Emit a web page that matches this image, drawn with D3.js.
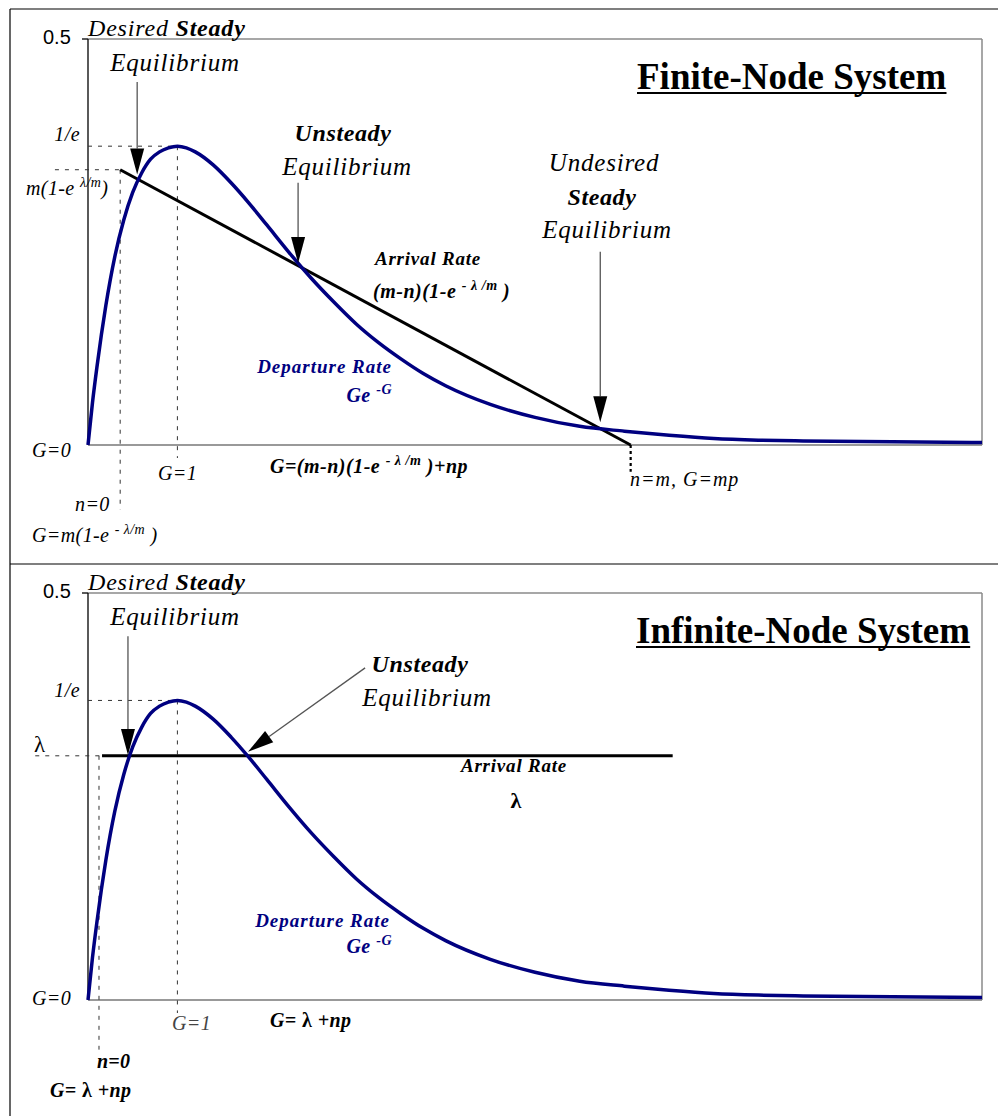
<!DOCTYPE html>
<html>
<head>
<meta charset="utf-8">
<script src="https://cdn.jsdelivr.net/npm/d3@7"></script>
<style>
  body { margin: 0; background: #fff; }
  svg { display: block; }
</style>
</head>
<body>
<svg id="chart" width="998" height="1116"></svg>
<script>
// departure rate G e^-G
const gValues   = [0, 0.05, 0.1, 0.15, 0.2, 0.3, 0.4, 0.5, 0.6, 0.7, 0.8, 0.9, 1.0, 1.1, 1.2, 1.4, 1.6, 1.8, 2.0, 2.25, 2.5, 2.75, 3.0, 3.25, 3.5, 3.75, 4.0, 4.5, 5.0, 5.5, 6.0, 6.5, 7.0, 7.5, 8.0, 9.0, 10.0];
const departure = [0, 0.052, 0.096, 0.136, 0.172, 0.232, 0.277, 0.311, 0.335, 0.352, 0.361, 0.366, 0.368, 0.366, 0.361, 0.345, 0.323, 0.298, 0.271, 0.237, 0.205, 0.176, 0.149, 0.126, 0.106, 0.088, 0.073, 0.050, 0.034, 0.023, 0.017, 0.012, 0.008, 0.006, 0.005, 0.004, 0.003];

// arrival rate lines
const finiteArrivalG = [0.36, 6.07];
const finiteArrival  = [0.339, 0];
const infiniteArrivalG = [0.157, 6.54];
const lambda = 0.3;

const peak = 0.368;    // 1/e
const finiteN0 = 0.339; // m(1-e^-λ/m)

const serif = "'Liberation Serif', 'Times New Roman', serif";
const sans = "'Liberation Sans', Arial, sans-serif";
const navy = "#000080";

const svg = d3.select("#chart");

// outer frame
svg.append("line").attr("x1", 10).attr("x2", 10).attr("y1", 9).attr("y2", 1116).attr("stroke", "#000").attr("stroke-width", 1.2);
svg.append("line").attr("x1", 10).attr("x2", 998).attr("y1", 9).attr("y2", 9).attr("stroke", "#000").attr("stroke-width", 1.2);
svg.append("line").attr("x1", 10).attr("x2", 998).attr("y1", 564).attr("y2", 564).attr("stroke", "#000").attr("stroke-width", 1.2);

function addLabel(g, L) {
  const size = L.size || 20;
  const t = g.append("text")
    .attr("x", L.x).attr("y", L.y)
    .attr("text-anchor", L.anchor || "start")
    .attr("font-family", L.family || serif)
    .attr("font-size", size)
    .attr("letter-spacing", L.ls == null ? 0.4 : L.ls)
    .attr("fill", L.color || "#000");
  let up = false;
  L.parts.forEach(p => {
    const s = p.s || L.s || "i";
    const ts = t.append("tspan").text(p.t)
      .attr("font-style", s.includes("i") ? "italic" : "normal")
      .attr("font-weight", s.includes("b") ? "bold" : "normal");
    if (p.sup) {
      ts.attr("font-size", size * 0.7).attr("dy", -8);
      up = true;
    } else if (up) {
      ts.attr("dy", 8);
      up = false;
    }
  });
  if (L.underline) {
    const b = t.node().getBBox();
    g.append("line")
      .attr("x1", b.x).attr("x2", b.x + b.width)
      .attr("y1", L.y + 4).attr("y2", L.y + 4)
      .attr("stroke", "#000").attr("stroke-width", 2);
  }
}

function arrow(g, x1, y1, x2, y2) {
  const ang = Math.atan2(y2 - y1, x2 - x1);
  const len = 26, half = 7;
  const bx = x2 - len * Math.cos(ang), by = y2 - len * Math.sin(ang);
  g.append("line").attr("x1", x1).attr("y1", y1).attr("x2", bx).attr("y2", by)
    .attr("stroke", "#555").attr("stroke-width", 1.3);
  const px = -Math.sin(ang) * half, py = Math.cos(ang) * half;
  g.append("path")
    .attr("d", `M${x2},${y2}L${bx + px},${by + py}L${bx - px},${by - py}Z`)
    .attr("fill", "#000");
}

function drawPanel(cfg) {
  const g = svg.append("g");
  const x = d3.scaleLinear().domain([0, 10]).range([88, 982]);
  const y = d3.scaleLinear().domain([0, 0.5]).range([cfg.bottom, cfg.top]);

  // plot frame
  g.append("line").attr("x1", x(0)).attr("x2", x(10)).attr("y1", y(0.5)).attr("y2", y(0.5)).attr("stroke", "#8a8a8a").attr("stroke-width", 1.5);
  g.append("line").attr("x1", x(10)).attr("x2", x(10)).attr("y1", y(0.5)).attr("y2", y(0)).attr("stroke", "#8a8a8a").attr("stroke-width", 1.5);
  g.append("line").attr("x1", x(0)).attr("x2", x(10)).attr("y1", y(0)).attr("y2", y(0)).attr("stroke", "#999").attr("stroke-width", 2);
  g.append("line").attr("x1", x(0)).attr("x2", x(0)).attr("y1", y(0.5)).attr("y2", y(0)).attr("stroke", "#000").attr("stroke-width", 1.3);
  g.append("line").attr("x1", x(0) - 6).attr("x2", x(0)).attr("y1", y(0.5)).attr("y2", y(0.5)).attr("stroke", "#000").attr("stroke-width", 1.3);

  // guide lines
  cfg.dashes.forEach(d => {
    g.append("line")
      .attr("x1", x(d[0])).attr("y1", y(d[1]))
      .attr("x2", x(d[2])).attr("y2", y(d[3]))
      .attr("stroke", d[4] ? "#000" : "#333")
      .attr("stroke-width", d[4] ? 2.2 : 1)
      .attr("stroke-dasharray", d[4] ? "3,3" : "4,6");
  });

  // label background (hides axis behind superscript)
  if (cfg.mask) {
    g.append("rect").attr("x", cfg.mask[0]).attr("y", cfg.mask[1]).attr("width", cfg.mask[2]).attr("height", cfg.mask[3]).attr("fill", "#fff");
  }

  // arrival rate
  g.append("line")
    .attr("x1", x(cfg.arrivalG[0])).attr("y1", y(cfg.arrival[0]))
    .attr("x2", x(cfg.arrivalG[1])).attr("y2", y(cfg.arrival[1]))
    .attr("stroke", "#000").attr("stroke-width", 3);

  // departure rate
  const line = d3.line().x((d, i) => x(gValues[i])).y(d => y(d)).curve(d3.curveMonotoneX);
  g.append("path").datum(departure)
    .attr("d", line)
    .attr("fill", "none")
    .attr("stroke", navy)
    .attr("stroke-width", 3.5)
    .attr("stroke-linejoin", "round");

  cfg.arrows.forEach(a => arrow(g, x(a[0]), y(a[1]), x(a[2]), y(a[3])));
  cfg.labels.forEach(L => addLabel(g, L));
}

drawPanel({
  top: 39, bottom: 445,
  arrivalG: finiteArrivalG, arrival: finiteArrival,
  mask: [89, 176, 30, 16],
  dashes: [
    [0, peak, 1, peak],
    [1, peak, 1, -0.016],
    [-0.37, finiteN0, finiteArrivalG[0], finiteN0],
    [finiteArrivalG[0], finiteN0, finiteArrivalG[0], -0.08],
    [finiteArrivalG[1], 0, finiteArrivalG[1], -0.033, true]
  ],
  arrows: [
    [0.55, 0.447, 0.55, 0.333],
    [2.35, 0.323, 2.35, 0.224],
    [5.73, 0.238, 5.73, 0.028]
  ],
  labels: [
    { x: 43, y: 44, family: sans, size: 20, ls: 0, parts: [{ t: "0.5", s: "n" }] },
    { x: 88, y: 36, size: 24, ls: 0.8, parts: [{ t: "Desired " }, { t: "Steady", s: "bi" }] },
    { x: 175, y: 71, anchor: "middle", size: 25, ls: 0.8, parts: [{ t: "Equilibrium" }] },
    { x: 637, y: 89, size: 37, ls: 0, s: "b", underline: true, parts: [{ t: "Finite-Node System" }] },
    { x: 80, y: 141, anchor: "end", parts: [{ t: "1/e" }] },
    { x: 26, y: 195, parts: [{ t: "m(1-e " }, { t: "λ/m", sup: true }, { t: ")" }] },
    { x: 32, y: 457, parts: [{ t: "G=0" }] },
    { x: 158, y: 480, parts: [{ t: "G=1" }] },
    { x: 75, y: 511, parts: [{ t: "n=0" }] },
    { x: 32, y: 542, parts: [{ t: "G=m(1-e " }, { t: "- λ/m", sup: true }, { t: " )" }] },
    { x: 270, y: 473, size: 20, s: "bi", ls: 0.5, parts: [{ t: "G=(m-n)(1-e " }, { t: "- λ /m", sup: true }, { t: " )+np" }] },
    { x: 630, y: 486, ls: 1, parts: [{ t: "n=m, G=mp" }] },
    { x: 343, y: 141, anchor: "middle", size: 24, ls: 0.6, parts: [{ t: "Unsteady", s: "bi" }] },
    { x: 347, y: 175, anchor: "middle", size: 25, ls: 0.8, parts: [{ t: "Equilibrium" }] },
    { x: 604, y: 171, anchor: "middle", size: 25, ls: 0.8, parts: [{ t: "Undesired" }] },
    { x: 602, y: 205, anchor: "middle", size: 24, ls: 0.6, parts: [{ t: "Steady", s: "bi" }] },
    { x: 607, y: 238, anchor: "middle", size: 25, ls: 0.8, parts: [{ t: "Equilibrium" }] },
    { x: 428, y: 265, anchor: "middle", size: 19, s: "bi", ls: 0.8, parts: [{ t: "Arrival Rate" }] },
    { x: 373, y: 298, size: 20, s: "bi", ls: 0.5, parts: [{ t: "(m-n)(1-e " }, { t: "- λ /m", sup: true }, { t: " )" }] },
    { x: 392, y: 373, anchor: "end", size: 19, s: "bi", ls: 1, color: navy, parts: [{ t: "Departure Rate" }] },
    { x: 392, y: 402, anchor: "end", size: 20, s: "bi", ls: 0.5, color: navy, parts: [{ t: "Ge " }, { t: "-G", sup: true }] }
  ]
});

drawPanel({
  top: 593, bottom: 1000,
  arrivalG: infiniteArrivalG, arrival: [lambda, lambda],
  dashes: [
    [0, peak, 1, peak],
    [1, peak, 1, -0.016],
    [-0.59, lambda, infiniteArrivalG[0], lambda],
    [0.123, lambda, 0.123, -0.061]
  ],
  arrows: [
    [0.447, 0.447, 0.447, 0.301],
    [3.10, 0.408, 1.79, 0.305]
  ],
  labels: [
    { x: 43, y: 598, family: sans, size: 20, ls: 0, parts: [{ t: "0.5", s: "n" }] },
    { x: 88, y: 590, size: 24, ls: 0.8, parts: [{ t: "Desired " }, { t: "Steady", s: "bi" }] },
    { x: 175, y: 625, anchor: "middle", size: 25, ls: 0.8, parts: [{ t: "Equilibrium" }] },
    { x: 636, y: 643, size: 37, ls: 0, s: "b", underline: true, parts: [{ t: "Infinite-Node System" }] },
    { x: 80, y: 697, anchor: "end", parts: [{ t: "1/e" }] },
    { x: 34, y: 752, size: 23, s: "n", ls: 0, parts: [{ t: "λ" }] },
    { x: 420, y: 672, anchor: "middle", size: 24, ls: 0.6, parts: [{ t: "Unsteady", s: "bi" }] },
    { x: 427, y: 706, anchor: "middle", size: 25, ls: 0.8, parts: [{ t: "Equilibrium" }] },
    { x: 514, y: 772, anchor: "middle", size: 19, s: "bi", ls: 0.8, parts: [{ t: "Arrival Rate" }] },
    { x: 516, y: 808, anchor: "middle", size: 22, s: "b", ls: 0, parts: [{ t: "λ" }] },
    { x: 390, y: 927, anchor: "end", size: 19, s: "bi", ls: 1, color: navy, parts: [{ t: "Departure Rate" }] },
    { x: 392, y: 953, anchor: "end", size: 20, s: "bi", ls: 0.5, color: navy, parts: [{ t: "Ge " }, { t: "-G", sup: true }] },
    { x: 32, y: 1005, parts: [{ t: "G=0" }] },
    { x: 172, y: 1030, color: "#444", parts: [{ t: "G=1" }] },
    { x: 270, y: 1027, size: 20, s: "bi", ls: 0.4, parts: [{ t: "G= " }, { t: "λ", s: "b" }, { t: " +np" }] },
    { x: 97, y: 1068, size: 20, s: "bi", ls: 0.2, parts: [{ t: "n=0" }] },
    { x: 50, y: 1097, size: 20, s: "bi", ls: 0.4, parts: [{ t: "G= " }, { t: "λ", s: "b" }, { t: " +np" }] }
  ]
});
</script>
</body>
</html>
